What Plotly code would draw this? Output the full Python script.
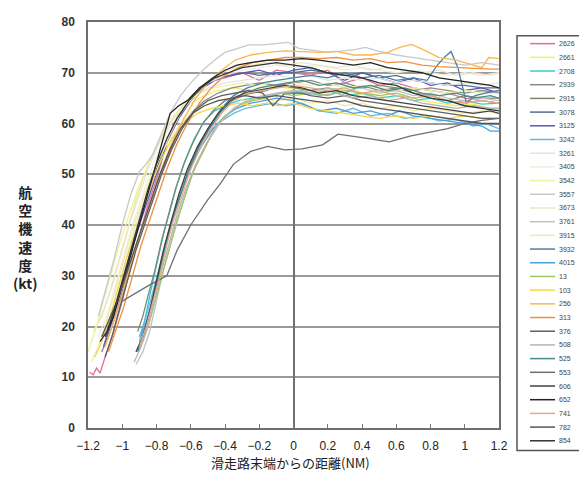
import plotly.graph_objects as go

# ---------------- data ----------------
names = ["2626", "2661", "2708", "2939", "2915", "3078", "3125", "3242", "3261", "3405",
         "3542", "3557", "3673", "3761", "3915", "3932", "4015", "13", "103", "256",
         "313", "376", "508", "525", "553", "606", "652", "741", "782", "854"]
colors = ["#e0708f", "#f2ee6a", "#3cc8d0", "#8a8a8a", "#7a8a70", "#507090", "#5a5ab8", "#60b8e8", "#e4e4e4", "#eeeedc",
          "#f0f0a0", "#c8c8c8", "#e8e8c8", "#c0c0c0", "#f6e8a8", "#4a80a8", "#4aa0d8", "#a0c860", "#f4d84a", "#f8b850",
          "#f09040", "#606060", "#b4b4b4", "#4a8a88", "#707070", "#404040", "#222222", "#e8a888", "#555555", "#333333"]

x_2626 = [-1.19,-1.17,-1.15,-1.13,-1.1,-1.05,-1.0,-0.95,-0.9,-0.85,-0.8,-0.75,-0.7,-0.62,-0.55,-0.47,-0.4,-0.3,-0.2,-0.1,0.0,0.1,0.2,0.3,0.4,0.5,0.6,0.7,0.8,0.9,1.0,1.1,1.2]
y_2626 = [11,10.5,11.8,10.8,14,19,25,32,38,44,49,55,60,64,67,68.5,69,70,68.5,70.5,70,69.5,70.5,68,69,67.5,68,67,66.5,66,65,64.5,64]
x_2661 = [-1.17,-1.12,-1.07,-1.02,-0.97,-0.92,-0.87,-0.82,-0.76,-0.7,-0.62,-0.55,-0.45,-0.35,-0.25,-0.15,-0.05,0.05,0.15,0.25,0.35,0.45,0.55,0.65,0.75,0.85,0.95,1.05,1.15,1.2]
y_2661 = [19,22,27,33,39,45,50,54,58,61,63.5,65,66.5,67,66.5,67.5,67,66.8,66,66.5,65.5,66,65,65.5,64.5,64,63.5,63.8,63,62.8]
x_2708 = [-0.9,-0.87,-0.84,-0.8,-0.76,-0.72,-0.68,-0.63,-0.58,-0.52,-0.46,-0.4,-0.32,-0.24,-0.16,-0.08,0,0.1,0.2,0.3,0.4,0.5,0.6,0.7,0.8,0.9,1.0,1.1,1.2]
y_2708 = [17,21,26,32,38,43,48,53,57,60.5,62.5,63.5,64.5,65,65.5,66,66.2,65.8,66.5,65.5,66,65,65.5,64.5,65,64,64.5,63.8,64]
x_2939 = [-1.12,-1.08,-1.04,-1.0,-0.95,-0.9,-0.85,-0.8,-0.74,-0.68,-0.6,-0.52,-0.44,-0.36,-0.28,-0.2,-0.1,0,0.1,0.2,0.3,0.4,0.5,0.6,0.7,0.8,0.9,1.0,1.1,1.2]
y_2939 = [15,18,22,27,33,38,43,48,53,58,62,64.5,66,67,67.5,68,67.5,68,68.5,67.5,68,67,67.5,67,66.5,67,66.5,66,66.5,66]
x_2915 = [-0.91,-0.88,-0.85,-0.81,-0.77,-0.73,-0.69,-0.64,-0.59,-0.53,-0.47,-0.4,-0.32,-0.24,-0.16,-0.08,0,0.1,0.2,0.3,0.4,0.5,0.6,0.7,0.8,0.9,1.0,1.1,1.2]
y_2915 = [19,22,26,31,37,42,47,52,56,60,62.5,64.5,65.5,66,66.5,67.5,67,66.5,67,66,67.5,66.5,67,66,65.5,64.5,65.5,65,65]
x_3078 = [-1.1,-1.06,-1.02,-0.97,-0.92,-0.87,-0.82,-0.77,-0.72,-0.66,-0.6,-0.52,-0.44,-0.36,-0.28,-0.2,-0.1,0,0.1,0.2,0.3,0.4,0.5,0.6,0.7,0.8,0.9,1.0,1.1,1.2]
y_3078 = [17,21,26,32,38,44,49,54,58,62,65,67.5,69,69.5,70,69.5,70,70,70.5,70,69.5,70,69,69.5,68.5,68,67.5,67.5,67,67]
x_3125 = [-1.11,-1.07,-1.03,-0.98,-0.93,-0.88,-0.83,-0.78,-0.73,-0.67,-0.6,-0.53,-0.46,-0.38,-0.3,-0.2,-0.1,0,0.1,0.2,0.3,0.4,0.5,0.6,0.7,0.8,0.9,1.0,1.1,1.2]
y_3125 = [16,20,25,31,37,42,47,52,57,61,64.5,67,68.5,69.5,70,70.5,69.5,70.5,71,70,68.5,70,69,68,69,67.5,68,66.5,67,66]
x_3242 = [-0.9,-0.86,-0.82,-0.78,-0.74,-0.7,-0.65,-0.6,-0.54,-0.48,-0.42,-0.35,-0.28,-0.2,-0.12,-0.05,0.05,0.15,0.25,0.35,0.45,0.55,0.65,0.75,0.85,0.95,1.05,1.12,1.2]
y_3242 = [18,22,27,32,37,42,47,51.5,55.5,58.5,60.5,62,63,63.5,64,63.5,64,62.5,62,63,61.5,62,61,61.5,60.5,60.8,59.5,60,59]
x_3261 = [-1.15,-1.1,-1.05,-1.0,-0.95,-0.9,-0.85,-0.8,-0.74,-0.68,-0.6,-0.5,-0.4,-0.3,-0.2,-0.1,0,0.1,0.2,0.3,0.4,0.5,0.6,0.7,0.8,0.9,1.0,1.1,1.2]
y_3261 = [20,24,29,35,41,46,51,55,59,62,65,67,68,68.5,69,69.5,69,69.5,68.5,69,68.5,69,68,68.5,68,67.5,68,67.5,68]
x_3405 = [-1.14,-1.09,-1.04,-0.99,-0.94,-0.89,-0.84,-0.79,-0.73,-0.66,-0.58,-0.5,-0.4,-0.3,-0.2,-0.1,0,0.1,0.2,0.3,0.4,0.5,0.6,0.7,0.8,0.9,1.0,1.1,1.2]
y_3405 = [18,22,28,34,40,45,50,54.5,59,63,66,68,69.5,70.5,71,71.5,71,71.5,71,70.5,71,70.5,70,70.5,70,69.5,70,69.5,70]
x_3542 = [-1.2,-1.18,-1.15,-1.11,-1.06,-1.01,-0.96,-0.91,-0.86,-0.81,-0.76,-0.7,-0.63,-0.55,-0.47,-0.38,-0.3,-0.2,-0.1,0,0.1,0.2,0.3,0.4,0.5,0.6,0.7,0.8,0.9,1.0,1.1,1.2]
y_3542 = [15,17,20,25,31,37,42,47,51,55,58.5,61.5,64,66,67,67.5,68,67.5,68.5,68,67.5,68,67,67.5,67,66.5,67,66.5,66,66.5,66,66]
x_3557 = [-1.14,-1.1,-1.05,-1.0,-0.95,-0.9,-0.86,-0.82,-0.77,-0.72,-0.66,-0.6,-0.53,-0.46,-0.4,-0.33,-0.26,-0.18,-0.1,-0.03,0.03,0.1,0.2,0.35,0.42,0.5,0.6,0.7,0.8,0.9,1.0,1.1,1.2]
y_3557 = [22,27,33,40,46,50.5,52,54,58,62,65.5,68,70.5,72.5,74,74.8,75.5,75.5,75.8,76,74.8,74.5,74,74.5,75,74.2,73.5,73,72.5,72,71.5,72,71.5]
x_3673 = [-1.13,-1.08,-1.03,-0.98,-0.93,-0.88,-0.83,-0.78,-0.72,-0.66,-0.58,-0.5,-0.42,-0.34,-0.25,-0.15,-0.05,0.05,0.15,0.25,0.35,0.45,0.55,0.65,0.75,0.85,0.95,1.05,1.15,1.2]
y_3673 = [17,21,27,33,39,44,49,53.5,58,62,65.5,68,70,71,71.5,72,71.5,72,71.5,71,71.5,70.5,71,70.5,70,70.5,69.5,70,69.5,70]
x_3761 = [-0.92,-0.88,-0.84,-0.8,-0.76,-0.71,-0.66,-0.61,-0.55,-0.49,-0.42,-0.35,-0.27,-0.18,-0.1,0,0.1,0.2,0.3,0.4,0.5,0.6,0.7,0.8,0.9,1.0,1.1,1.2]
y_3761 = [12.5,15,19,25,31,37,43,48.5,53,57,60.5,63,64.5,65.5,66,66.5,66,67,66.5,67,66,66.5,65.5,66,65,64.5,65,64.5]
x_3915 = [-1.18,-1.14,-1.1,-1.05,-1.0,-0.95,-0.9,-0.85,-0.8,-0.74,-0.67,-0.6,-0.52,-0.44,-0.36,-0.28,-0.2,-0.1,0,0.1,0.2,0.3,0.4,0.5,0.6,0.7,0.8,0.9,1.0,1.1,1.2]
y_3915 = [13,16,20,26,32,38,43,48,52,56,59.5,62,63.5,64.5,65,64.5,65,64.5,65,64,64.5,63.5,64,63,63.5,62.5,63,62.5,62,62.5,62]
x_3932 = [-0.9,-0.86,-0.82,-0.78,-0.74,-0.7,-0.65,-0.6,-0.54,-0.48,-0.42,-0.35,-0.27,-0.18,-0.1,0,0.1,0.2,0.3,0.4,0.5,0.6,0.7,0.78,0.84,0.88,0.92,0.96,1.01,1.06,1.12,1.2]
y_3932 = [16,20,25,31,37,42,47,52,56.5,60,63,65.5,67,68,68.5,69,69.5,69,70,69,69.5,68.5,69,68.5,71.5,73,74.2,71,64,65.5,66,66.5]
x_4015 = [-0.89,-0.85,-0.81,-0.77,-0.73,-0.69,-0.64,-0.59,-0.53,-0.47,-0.4,-0.33,-0.25,-0.17,-0.1,0,0.08,0.15,0.25,0.35,0.45,0.55,0.62,0.7,0.8,0.9,1.0,1.1,1.15,1.2]
y_4015 = [18,22,27,33,38,43,48,52.5,56,59,61.5,63,64,64.5,65,64.5,63.5,62.5,63,62,62.5,61.5,62.5,61.5,61,60.5,60,59.5,58.5,58.5]
x_13 = [-0.88,-0.84,-0.8,-0.76,-0.72,-0.68,-0.63,-0.58,-0.52,-0.46,-0.4,-0.32,-0.24,-0.16,-0.08,0,0.1,0.2,0.3,0.4,0.5,0.6,0.7,0.8,0.9,1.0,1.1,1.2]
y_13 = [17,21,26,31,36,41,46,51,55,59,61.5,63.5,64.5,65,66,65.5,66,65.5,66.5,66,65.5,66,65,65.5,64.5,64,64.5,64]
x_103 = [-1.16,-1.12,-1.07,-1.02,-0.97,-0.92,-0.87,-0.82,-0.77,-0.71,-0.64,-0.56,-0.48,-0.4,-0.32,-0.24,-0.16,-0.08,0,0.1,0.2,0.3,0.4,0.5,0.6,0.7,0.8,0.9,1.0,1.1,1.2]
y_103 = [14,17,22,28,34,39,44,49,53,57,60,62,63,63.5,64,63.5,64,63.5,64,63,62.5,62,61.5,61,61.5,61,61.5,61,61.5,61,61]
x_256 = [-1.1,-1.06,-1.01,-0.96,-0.91,-0.86,-0.81,-0.76,-0.7,-0.64,-0.57,-0.5,-0.42,-0.34,-0.25,-0.15,-0.05,0.05,0.15,0.25,0.35,0.45,0.55,0.62,0.69,0.76,0.85,0.95,1.05,1.1,1.14,1.2]
y_256 = [16,20,25,31,37,42,47,52,57,61,65,68,70.5,72.5,73.5,74,74.3,74.2,74,74.2,73.5,73.5,74,75,75.6,74.5,73,72.5,71.5,71,73,72.8]
x_313 = [-1.08,-1.04,-0.99,-0.94,-0.89,-0.84,-0.79,-0.74,-0.68,-0.62,-0.55,-0.48,-0.4,-0.32,-0.24,-0.15,-0.05,0.05,0.15,0.25,0.35,0.45,0.55,0.65,0.75,0.85,0.95,1.05,1.15,1.2]
y_313 = [15,19,24,30,36,41,46,51,56,60,64,67,69.5,71,72,72.5,73,73,72.8,73,72.5,72.8,72,72.2,71.5,71.2,71,70.8,70.7,70.7]
x_376 = [-1.1,-1.06,-1.02,-0.97,-0.92,-0.87,-0.82,-0.77,-0.71,-0.65,-0.58,-0.5,-0.42,-0.34,-0.26,-0.18,-0.12,-0.05,0.05,0.1,0.2,0.3,0.4,0.5,0.6,0.7,0.8,0.9,1.0,1.1,1.2]
y_376 = [14,18,23,29,35,40,45,50,55,59,62.5,64.5,65.5,66,66.5,66,63.5,66,66,65.5,65,65.5,64.5,64,63.5,63,62.5,62,61.5,61,61]
x_508 = [-0.93,-0.89,-0.85,-0.81,-0.77,-0.73,-0.68,-0.63,-0.57,-0.51,-0.45,-0.38,-0.3,-0.22,-0.14,-0.06,0.05,0.15,0.25,0.35,0.45,0.55,0.65,0.75,0.85,0.95,1.05,1.15,1.2]
y_508 = [13,16,20,25,31,36,42,47,52,56,59.5,62,64,65,65.5,66,66.5,65.5,66,65,65.5,64.5,65,64,63.5,63,63.5,63,63]
x_525 = [-0.91,-0.87,-0.83,-0.79,-0.75,-0.71,-0.66,-0.61,-0.55,-0.49,-0.43,-0.36,-0.28,-0.2,-0.12,-0.04,0.05,0.15,0.25,0.35,0.45,0.55,0.65,0.75,0.85,0.95,1.05,1.15,1.2]
y_525 = [15,19,24,30,36,41,46,51,55.5,59,62,64.5,66,67,67.5,68,68.5,67.5,68,67,67.5,66.5,67,66,65.5,66,65,65.5,65]
x_553 = [-1.0,-0.85,-0.74,-0.68,-0.6,-0.5,-0.43,-0.35,-0.25,-0.15,-0.05,0.05,0.17,0.26,0.4,0.56,0.68,0.79,0.9,1.0,1.1,1.2]
y_553 = [25,28,30,35,40,45,48,52,54.5,55.5,54.8,55,55.8,57.9,57.2,56.4,57.5,58.2,59,60,60.6,61]
x_606 = [-0.92,-0.88,-0.84,-0.8,-0.76,-0.72,-0.67,-0.62,-0.56,-0.5,-0.44,-0.37,-0.29,-0.21,-0.13,-0.05,0.05,0.15,0.25,0.35,0.45,0.55,0.65,0.75,0.85,0.95,1.05,1.15,1.2]
y_606 = [15,18,23,29,35,40,46,51,55.5,59,62,64.5,66,66.5,67,67.5,67,66,66.5,65.5,65,64.5,64,63.5,63,62.5,62,62.5,62]
x_652 = [-1.1,-1.05,-1.0,-0.95,-0.9,-0.85,-0.8,-0.76,-0.72,-0.67,-0.62,-0.55,-0.47,-0.4,-0.33,-0.25,-0.15,-0.05,0.05,0.15,0.25,0.35,0.45,0.55,0.65,0.75,0.85,0.95,1.05,1.15,1.2]
y_652 = [18,22,28,34,40,46,52,57,62,63.5,64.5,67,69,70.5,71.5,72,72.5,72.5,72.8,72.5,72,71.5,72,71,70.5,70,69,68.5,68,67.5,67]
x_741 = [-0.9,-0.86,-0.82,-0.78,-0.74,-0.7,-0.65,-0.6,-0.54,-0.48,-0.42,-0.35,-0.27,-0.18,-0.1,0,0.1,0.2,0.3,0.4,0.5,0.6,0.7,0.8,0.9,1.0,1.1,1.2]
y_741 = [16,20,25,30,36,41,46,51,55.5,59,62,64.5,66,66.5,67,67.5,67,66.5,67,66,66.5,65.5,65,65.5,64.5,64,64.5,64]
x_782 = [-1.12,-1.08,-1.03,-0.98,-0.93,-0.88,-0.83,-0.78,-0.72,-0.66,-0.59,-0.52,-0.44,-0.36,-0.28,-0.2,-0.1,0,0.1,0.2,0.3,0.4,0.5,0.6,0.7,0.8,0.9,1.0,1.1,1.2]
y_782 = [18,21,25,30,35,40,45,50,55,59,62,63.5,64.5,65,65.5,65,65.5,65,64.5,64,64.5,63.5,63,62.5,62,61.5,61,60.5,60,60]
x_854 = [-1.13,-1.09,-1.05,-1.0,-0.95,-0.9,-0.85,-0.8,-0.74,-0.68,-0.61,-0.54,-0.46,-0.38,-0.3,-0.2,-0.1,0,0.1,0.2,0.3,0.4,0.5,0.6,0.7,0.8,0.9,1.0,1.1,1.2]
y_854 = [17,19,23,29,35,41,47,52,57,61,64.5,67,69,70,71,71.5,72,71.5,71,70,69.5,69,68,67.5,66,65,64.5,63.5,63,62.5]

series_x = [x_2626, x_2661, x_2708, x_2939, x_2915, x_3078, x_3125, x_3242, x_3261, x_3405,
            x_3542, x_3557, x_3673, x_3761, x_3915, x_3932, x_4015, x_13, x_103, x_256,
            x_313, x_376, x_508, x_525, x_553, x_606, x_652, x_741, x_782, x_854]
series_y = [y_2626, y_2661, y_2708, y_2939, y_2915, y_3078, y_3125, y_3242, y_3261, y_3405,
            y_3542, y_3557, y_3673, y_3761, y_3915, y_3932, y_4015, y_13, y_103, y_256,
            y_313, y_376, y_508, y_525, y_553, y_606, y_652, y_741, y_782, y_854]

x_ticks = [-1.2, -1.0, -0.8, -0.6, -0.4, -0.2, 0, 0.2, 0.4, 0.6, 0.8, 1.0, 1.2]
x_ticktext = ["\u22121.2", "\u22121", "\u22120.8", "\u22120.6", "\u22120.4", "\u22120.2", "0",
              "0.2", "0.4", "0.6", "0.8", "1", "1.2"]
y_title = "航<br>空<br>機<br>速<br>度<br>(kt)"
x_title = "滑走路末端からの距離(NM)"

# ---------------- figure ----------------
# the page body has an 8px margin, so the figure is drawn 8px in from the corner
OFF = 8
W, H = 587 - OFF, 479 - 2 * OFF
ML, MR, MT, MB = 88 - OFF, 88, 15 - OFF, 479 - 428 - 2 * OFF + OFF
PW = W - ML - MR
PH = H - MT - MB

FONT = "Liberation Sans, Arial, Noto Sans CJK JP, sans-serif"
fig = go.Figure()
for xs, ys, c in zip(series_x, series_y, colors):
    fig.add_trace(go.Scatter(x=xs, y=ys, mode="lines", line=dict(color=c, width=1.3),
                             showlegend=False, hoverinfo="skip"))

fig.update_layout(
    width=W, height=H, margin=dict(l=ML, r=MR, t=MT, b=MB),
    paper_bgcolor="white", plot_bgcolor="white",
    font=dict(family=FONT, color="#333333"),
    showlegend=False,
)
fig.update_xaxes(range=[-1.2, 1.2], tickvals=x_ticks, ticktext=x_ticktext,
                 showgrid=False, zeroline=True, zerolinecolor="#707070", zerolinewidth=1.5,
                 showline=True, mirror=True, linecolor="#6e6e6e", linewidth=1.5,
                 ticks="inside", ticklen=4, tickcolor="#7a7a7a",
                 tickfont=dict(size=12, color="#222222"), ticklabelstandoff=6)
fig.update_yaxes(range=[0, 80], dtick=10, showgrid=True, gridcolor="#9a9a9a", gridwidth=1.5,
                 zeroline=False, showline=True, mirror=True, linecolor="#6e6e6e", linewidth=1.5,
                 ticks="", tickfont=dict(size=12, color="#333333", weight="bold"),
                 ticklabelstandoff=9)

def px_to_paper_x(px):
    # px: target pixel in the window
    return (px - OFF - ML) / PW

def px_to_paper_y(py):
    return (MT + PH - (py - OFF)) / PH

anns = [
    dict(text="<b>" + y_title + "</b>", x=px_to_paper_x(25), y=px_to_paper_y(234),
         xref="paper", yref="paper", showarrow=False, xanchor="center", yanchor="middle",
         font=dict(size=14, color="#222222", family="Noto Sans CJK JP, sans-serif")),
    dict(text=x_title, x=px_to_paper_x(290), y=px_to_paper_y(463),
         xref="paper", yref="paper", showarrow=False, xanchor="center", yanchor="middle",
         borderpad=0,
         font=dict(size=13, color="#222222", family="Noto Sans CJK JP, sans-serif")),
]
shapes = [dict(type="rect", xref="paper", yref="paper",
               x0=px_to_paper_x(517), x1=px_to_paper_x(581),
               y0=px_to_paper_y(451), y1=px_to_paper_y(29),
               line=dict(color="#555555", width=1.5), fillcolor="white", layer="below")]
step = (441 - 37) / (len(names) - 1)
for i, (nm, c) in enumerate(zip(names, colors)):
    py = 37 + i * step
    shapes.append(dict(type="line", xref="paper", yref="paper",
                       x0=px_to_paper_x(530), x1=px_to_paper_x(555),
                       y0=px_to_paper_y(py), y1=px_to_paper_y(py),
                       line=dict(color=c, width=1.5)))
    anns.append(dict(text=nm, x=px_to_paper_x(557), y=px_to_paper_y(py),
                     xref="paper", yref="paper", showarrow=False,
                     xanchor="left", yanchor="middle",
                     font=dict(size=7, color="#444444")))
fig.update_layout(annotations=anns, shapes=shapes)

fig.write_html("out.html")
